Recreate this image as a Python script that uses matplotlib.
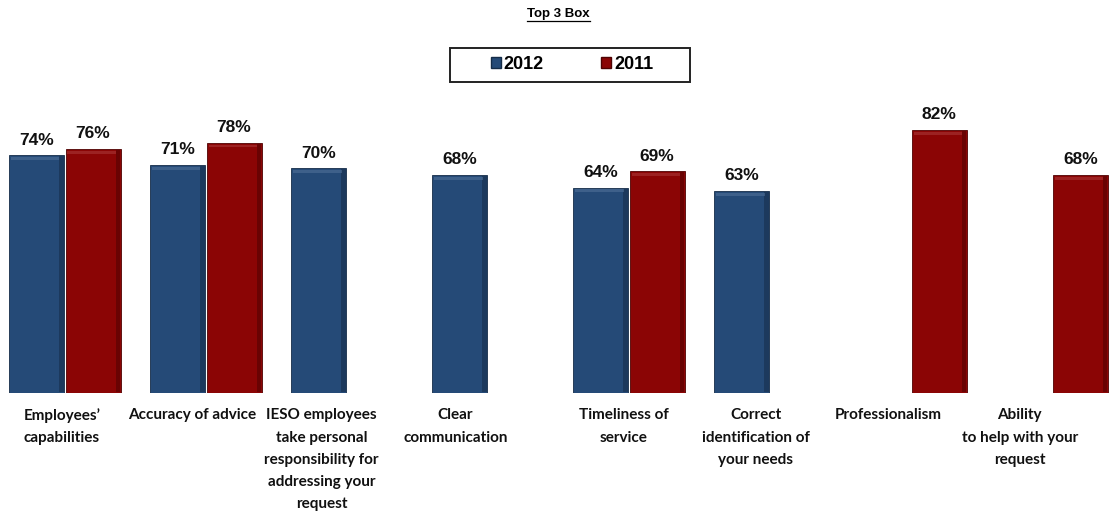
import numpy as np
import matplotlib
matplotlib.use("Agg")
import matplotlib.pyplot as plt
from matplotlib.lines import Line2D
from matplotlib.patches import Rectangle

CATEGORIES = [
    "Employees\u2019\ncapabilities",
    "Accuracy of advice",
    "IESO employees\ntake personal\nresponsibility for\naddressing your\nrequest",
    "Clear\ncommunication",
    "Timeliness of\nservice",
    "Correct\nidentification of\nyour needs",
    "Professionalism",
    "Ability\nto help with your\nrequest",
]
Y2012 = [74, 71, 70, 68, 64, 63, np.nan, np.nan]
Y2011 = [76, 78, np.nan, np.nan, 69, np.nan, 82, 68]
# where each wrapped label sits relative to its group
LABEL_SHIFT = [-0.02, -0.10, -0.18, -0.23, -0.04, -0.10, -0.16, -0.23]

BLUE, BLUE_DK, BLUE_HI = "#254a77", "#152c48", "#4f6f97"
RED, RED_DK, RED_HI = "#8b0505", "#4e0202", "#a83636"

NUM_FONT = ["Liberation Sans", "DejaVu Sans"]
CAT_FONT = ["Lato", "DejaVu Sans"]

fig = plt.figure(figsize=(11.17, 5.14), dpi=100)
ax = fig.add_axes([0, 0.2354, 1, 0.5796])

x = np.arange(len(CATEGORIES))
w = 0.39
off = 0.2


def draw(vals, xs, col, dark, hi):
    v = np.array(vals, dtype=float)
    ok = ~np.isnan(v)
    ax.bar(xs[ok], v[ok], width=w, color=col, edgecolor=dark, lw=0.6, zorder=2)
    # bevel: dark strip on the right, light strip along the top
    ax.bar(xs[ok] + w * 0.45, v[ok] - 0.6, width=w * 0.08, bottom=0.3,
           color=dark, lw=0, alpha=0.55, zorder=3)
    ax.bar(xs[ok] - 0.01, np.full(ok.sum(), 0.9), width=w * 0.88,
           bottom=v[ok] - 1.5, color=hi, lw=0, alpha=0.6, zorder=3)
    for xi, vi in zip(xs[ok], v[ok]):
        ax.text(xi, vi + 2.4, f"{vi:.0f}%", ha="center", va="bottom",
                fontsize=12.5, fontweight="bold", family=NUM_FONT, color="#111111")


draw(Y2012, x - off, BLUE, BLUE_DK, BLUE_HI)
draw(Y2011, x + off, RED, RED_DK, RED_HI)

ax.set_xlim(-0.46, 7.46)
ax.set_ylim(0, 92.8)
ax.set_yticks([])
ax.set_xticks(x + np.array(LABEL_SHIFT))
ax.set_xticklabels(CATEGORIES, fontsize=11, fontweight="bold", family=CAT_FONT,
                   linespacing=1.75, color="#111111")
ax.tick_params(axis="x", length=0, pad=11)
for s in ax.spines.values():
    s.set_visible(False)

# legend in its own wide box
fig.add_artist(Rectangle((450 / 1117, 1 - 82 / 514), 240 / 1117, 34 / 514,
                         transform=fig.transFigure, fill=False, ec="#222222", lw=1.4))
handles = [Rectangle((0, 0), 1, 1, color=BLUE, ec=BLUE_DK),
           Rectangle((0, 0), 1, 1, color=RED, ec=RED_DK)]
fig.legend(handles, ["2012", "2011"], loc="center", bbox_to_anchor=(0.512, 0.874),
           ncol=2, frameon=False, handlelength=0.55, handleheight=0.55,
           handletextpad=0.15, columnspacing=3.2,
           prop={"family": NUM_FONT, "weight": "bold", "size": 13})

title = fig.text(0.5, 0.973, "Top 3 Box", ha="center", va="center", fontsize=9.5,
                 fontweight="bold", family=NUM_FONT)
fig.canvas.draw()
bb = title.get_window_extent().transformed(fig.transFigure.inverted())
fig.add_artist(Line2D([bb.x0, bb.x1], [bb.y0 - 0.002, bb.y0 - 0.002], color="black",
                      lw=0.9, transform=fig.transFigure))

fig.savefig("out.png", dpi=100)
